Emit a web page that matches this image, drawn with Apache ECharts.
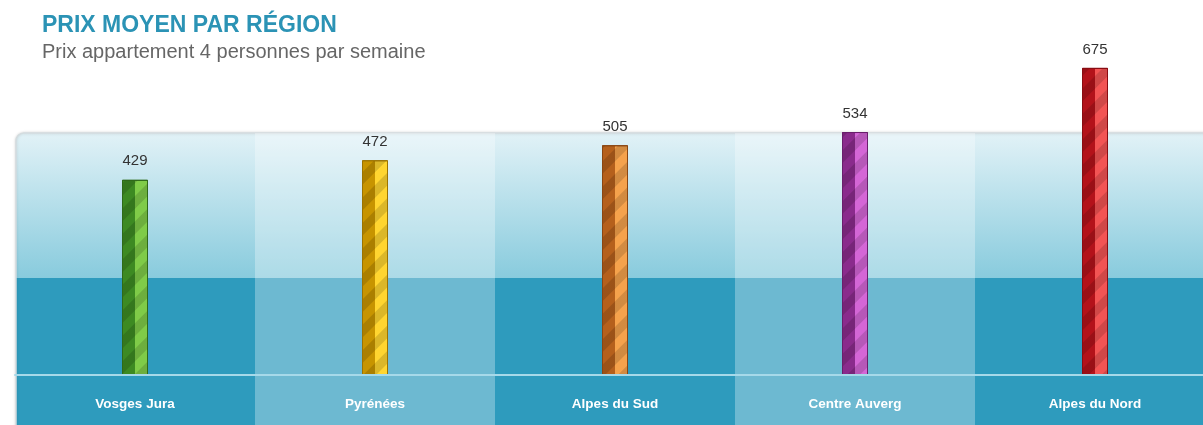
<!DOCTYPE html>
<html>
<head>
<meta charset="utf-8">
<script src="https://cdn.jsdelivr.net/npm/echarts@6/dist/echarts.min.js"></script>
<style>html,body{margin:0;padding:0;background:#fff;}#c{width:1203px;height:425px;}</style>
</head>
<body>
<div id="c"></div>
<script>
const categories = ['Vosges Jura', 'Pyrénées', 'Alpes du Sud', 'Centre Auverg', 'Alpes du Nord'];
const prices = [429, 472, 505, 534, 675];
const darkColors = ['#3d8a22', '#c79400', '#b5601c', '#8a2b8c', '#b3121a'];
const lightColors = ['#7fcb48', '#ffd530', '#f5a24c', '#d466d6', '#f25454'];
const borderColors = ['#2f6a18', '#9c7300', '#8a4612', '#6a1e6c', '#8a0c12'];

const chart = echarts.init(document.getElementById('c'));

const barData = prices.map((v, i) => ({
  value: v,
  itemStyle: {
    color: {
      type: 'linear', x: 0, y: 0, x2: 1, y2: 0,
      colorStops: [
        {offset: 0, color: darkColors[i]},
        {offset: 0.5, color: darkColors[i]},
        {offset: 0.5, color: lightColors[i]},
        {offset: 1, color: lightColors[i]}
      ]
    },
    borderColor: borderColors[i],
    borderWidth: 1,
    decal: {
      symbol: 'rect',
      symbolSize: 1,
      dashArrayX: [1, 0],
      dashArrayY: [9, 9],
      rotation: -Math.PI / 4,
      color: 'rgba(0,0,0,0.14)'
    }
  }
}));

chart.setOption({
  animation: false,
  title: {
    text: 'PRIX MOYEN PAR RÉGION',
    subtext: 'Prix appartement 4 personnes par semaine',
    left: 37, top: 9,
    itemGap: 5,
    textStyle: {color: '#2b93b5', fontSize: 23, fontWeight: 'bold', fontFamily: 'Liberation Sans, Arial, sans-serif'},
    subtextStyle: {color: '#666', fontSize: 20, fontFamily: 'Liberation Sans, Arial, sans-serif'}
  },
  graphic: [{
    type: 'rect',
    z: -10,
    shape: {x: 16, y: 133, width: 1200, height: 300, r: [8, 0, 0, 0]},
    style: {
      fill: {
        type: 'linear', x: 0, y: 0, x2: 0, y2: 1,
        colorStops: [
          {offset: 0, color: '#e2f2f7'},
          {offset: 0.484, color: '#88cbdd'},
          {offset: 0.484, color: '#2e9bbd'},
          {offset: 1, color: '#2e9bbd'}
        ]
      },
      stroke: '#d3dcdf',
      lineWidth: 1.5,
      shadowBlur: 3,
      shadowColor: 'rgba(0,0,0,0.15)'
    }
  }],
  grid: [
    {left: 15, width: 1200, top: 11, bottom: 50, outerBoundsMode: 'none', containLabel: false},
    {left: 15, width: 1200, top: 133, bottom: 0, outerBoundsMode: 'none', containLabel: false}
  ],
  xAxis: [
    {
      type: 'category', data: categories, gridIndex: 0, z: 5,
      axisLine: {show: true, lineStyle: {color: '#a6d9e9', width: 2}},
      axisTick: {show: false},
      axisLabel: {color: '#fff', fontWeight: 'bold', fontSize: 13.5, margin: 22, fontFamily: 'Liberation Sans, Arial, sans-serif'},
      splitLine: {show: false}
    },
    {
      type: 'category', data: categories, gridIndex: 1,
      axisLine: {show: false}, axisTick: {show: false}, axisLabel: {show: false},
      splitArea: {show: true, areaStyle: {color: ['rgba(255,255,255,0)', 'rgba(255,255,255,0.3)']}}
    }
  ],
  yAxis: [
    {type: 'value', gridIndex: 0, min: 0, max: 800, show: false, splitLine: {show: false}},
    {type: 'value', gridIndex: 1, show: false}
  ],
  series: [{
    type: 'bar',
    xAxisIndex: 0, yAxisIndex: 0,
    barWidth: 26,
    data: barData,
    label: {
      show: true, position: 'top', distance: 11,
      color: '#333', fontSize: 15, fontFamily: 'Liberation Sans, Arial, sans-serif'
    }
  }]
});
</script>
</body>
</html>
